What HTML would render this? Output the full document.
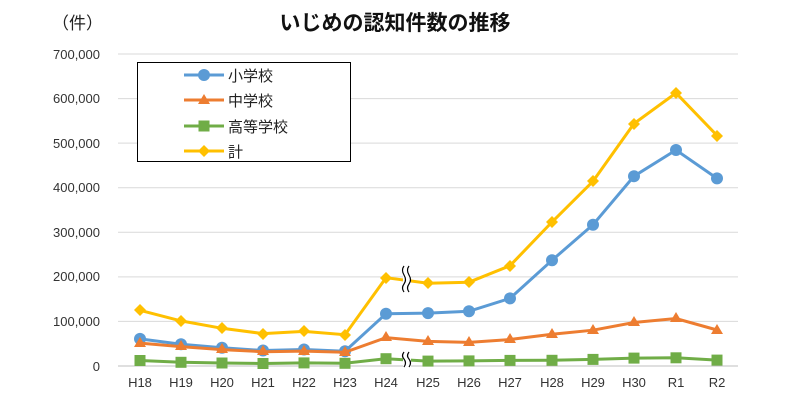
<!DOCTYPE html>
<html><head><meta charset="utf-8"><style>
body{margin:0;background:#fff;}
svg text{font-family:"Liberation Sans","Noto Sans CJK JP",sans-serif;}
</style></head><body>
<svg width="800" height="400" viewBox="0 0 800 400" xmlns="http://www.w3.org/2000/svg">
<rect width="800" height="400" fill="#fff"/>
<text x="52" y="29" font-size="17" fill="#222">（件）</text>
<text x="395" y="30" font-size="21" font-weight="bold" text-anchor="middle" fill="#111">いじめの認知件数の推移</text>
<g stroke="#d9d9d9" stroke-width="1">
<line x1="118" x2="738" y1="54" y2="54"/><line x1="118" x2="738" y1="98.6" y2="98.6"/>
<line x1="118" x2="738" y1="143.1" y2="143.1"/><line x1="118" x2="738" y1="187.7" y2="187.7"/>
<line x1="118" x2="738" y1="232.3" y2="232.3"/><line x1="118" x2="738" y1="276.9" y2="276.9"/>
<line x1="118" x2="738" y1="321.4" y2="321.4"/>
</g>
<line x1="118" x2="738" y1="366" y2="366" stroke="#bfbfbf"/>
<g font-size="13" fill="#333" text-anchor="end">
<text x="100" y="59">700,000</text><text x="100" y="103">600,000</text><text x="100" y="148">500,000</text>
<text x="100" y="192">400,000</text><text x="100" y="237">300,000</text><text x="100" y="281">200,000</text>
<text x="100" y="326">100,000</text><text x="100" y="371">0</text>
</g>
<g font-size="13" fill="#333" text-anchor="middle">
<text x="140" y="387">H18</text><text x="181" y="387">H19</text><text x="222" y="387">H20</text><text x="263" y="387">H21</text>
<text x="304" y="387">H22</text><text x="345" y="387">H23</text><text x="386" y="387">H24</text><text x="428" y="387">H25</text>
<text x="469" y="387">H26</text><text x="510" y="387">H27</text><text x="552" y="387">H28</text><text x="593" y="387">H29</text>
<text x="634" y="387">H30</text><text x="676" y="387">R1</text><text x="717" y="387">R2</text>
</g>
<!-- 計 -->
<g stroke="#FFC000" stroke-width="3" fill="none">
<polyline points="140,310.3 181,320.9 222,328.3 263,333.6 304,331.4 345,334.7 386,277.7 428,283.2 469,282.2 510,265.7 552,222 593,181.3 634,123.6 676,93 717,135.5"/>
</g>
<g fill="#FFC000">
<path d="M140,304 l6,6 l-6,6 l-6,-6z"/><path d="M181,315 l6,6 l-6,6 l-6,-6z"/><path d="M222,322 l6,6 l-6,6 l-6,-6z"/>
<path d="M263,328 l6,6 l-6,6 l-6,-6z"/><path d="M304,325 l6,6 l-6,6 l-6,-6z"/><path d="M345,329 l6,6 l-6,6 l-6,-6z"/>
<path d="M386,272 l6,6 l-6,6 l-6,-6z"/><path d="M428,277 l6,6 l-6,6 l-6,-6z"/><path d="M469,276 l6,6 l-6,6 l-6,-6z"/>
<path d="M510,260 l6,6 l-6,6 l-6,-6z"/><path d="M552,216 l6,6 l-6,6 l-6,-6z"/><path d="M593,175 l6,6 l-6,6 l-6,-6z"/>
<path d="M634,118 l6,6 l-6,6 l-6,-6z"/><path d="M676,87 l6,6 l-6,6 l-6,-6z"/><path d="M717,130 l6,6 l-6,6 l-6,-6z"/>
</g>
<!-- 小学校 -->
<g stroke="#5B9BD5" stroke-width="3" fill="none">
<polyline points="140,338.9 181,344.2 222,347.8 263,350.5 304,349.5 345,351.2 386,313.7 428,313.1 469,311.3 510,298.4 552,260.3 593,224.7 634,176.2 676,150 717,178.4"/>
</g>
<g fill="#5B9BD5">
<circle cx="140" cy="338.9" r="6"/><circle cx="181" cy="344.2" r="6"/><circle cx="222" cy="347.8" r="6"/><circle cx="263" cy="350.5" r="6"/>
<circle cx="304" cy="349.5" r="6"/><circle cx="345" cy="351.2" r="6"/><circle cx="386" cy="313.7" r="6"/><circle cx="428" cy="313.1" r="6"/>
<circle cx="469" cy="311.3" r="6"/><circle cx="510" cy="298.4" r="6"/><circle cx="552" cy="260.3" r="6"/><circle cx="593" cy="224.7" r="6"/>
<circle cx="634" cy="176.2" r="6"/><circle cx="676" cy="150" r="6"/><circle cx="717" cy="178.4" r="6"/>
</g>
<!-- 中学校 -->
<g stroke="#ED7D31" stroke-width="3" fill="none">
<polyline points="140,343.1 181,346.6 222,349.6 263,351.7 304,351.1 345,352.3 386,337.6 428,341.4 469,342.4 510,339.5 552,334.2 593,330.2 634,322.5 676,318.5 717,330"/>
</g>
<g fill="#ED7D31">
<path d="M140,337 l6,10 h-12z"/><path d="M181,340 l6,10 h-12z"/><path d="M222,343 l6,10 h-12z"/><path d="M263,345 l6,10 h-12z"/>
<path d="M304,345 l6,10 h-12z"/><path d="M345,346 l6,10 h-12z"/><path d="M386,331 l6,10 h-12z"/><path d="M428,335 l6,10 h-12z"/>
<path d="M469,336 l6,10 h-12z"/><path d="M510,333 l6,10 h-12z"/><path d="M552,328 l6,10 h-12z"/><path d="M593,324 l6,10 h-12z"/>
<path d="M634,316 l6,10 h-12z"/><path d="M676,312 l6,10 h-12z"/><path d="M717,324 l6,10 h-12z"/>
</g>
<!-- 高等学校 -->
<g stroke="#70AD47" stroke-width="3" fill="none">
<polyline points="140,360.5 181,362.3 222,363 263,363.5 304,362.9 345,363.3 386,358.7 428,361.1 469,360.9 510,360.4 552,360.3 593,359.4 634,358.1 676,357.8 717,360.1"/>
</g>
<g fill="#70AD47">
<rect x="134.5" y="355" width="11" height="11"/><rect x="175.5" y="356.8" width="11" height="11"/><rect x="216.5" y="357.5" width="11" height="11"/>
<rect x="257.5" y="358" width="11" height="11"/><rect x="298.5" y="357.4" width="11" height="11"/><rect x="339.5" y="357.8" width="11" height="11"/>
<rect x="380.5" y="353.2" width="11" height="11"/><rect x="422.5" y="355.6" width="11" height="11"/><rect x="463.5" y="355.4" width="11" height="11"/>
<rect x="504.5" y="354.9" width="11" height="11"/><rect x="546.5" y="354.8" width="11" height="11"/><rect x="587.5" y="353.9" width="11" height="11"/>
<rect x="628.5" y="352.6" width="11" height="11"/><rect x="670.5" y="352.3" width="11" height="11"/><rect x="711.5" y="354.6" width="11" height="11"/>
</g>
<!-- break marks -->
<g stroke="#000" stroke-width="1.2" fill="none">
<rect x="403" y="266" width="8" height="26" fill="#fff" stroke="none"/>
<path d="M404,266 q-3,4 0,9 q3,5 0,9 q-3,4 0,8"/><path d="M409,266 q-3,4 0,9 q3,5 0,9 q-3,4 0,8"/>
<rect x="403" y="352" width="8" height="16" fill="#fff" stroke="none"/>
<path d="M404,352 q-3,4 0,7 q3,4 0,8"/><path d="M409,352 q-3,4 0,7 q3,4 0,8"/>
</g>
<!-- legend -->
<rect x="137.5" y="62.5" width="213" height="99" fill="#fff" stroke="#000" stroke-width="1"/>
<g stroke-width="3">
<line x1="184" x2="224" y1="75" y2="75" stroke="#5B9BD5"/><circle cx="204" cy="75" r="6" fill="#5B9BD5"/>
<line x1="184" x2="224" y1="100" y2="100" stroke="#ED7D31"/><path d="M204,94 l6,10 h-12z" fill="#ED7D31"/>
<line x1="184" x2="224" y1="126" y2="126" stroke="#70AD47"/><rect x="198.5" y="120.5" width="11" height="11" fill="#70AD47"/>
<line x1="184" x2="224" y1="151" y2="151" stroke="#FFC000"/><path d="M204,145 l6,6 l-6,6 l-6,-6z" fill="#FFC000"/>
</g>
<g font-size="15" fill="#222">
<text x="228" y="81">小学校</text><text x="228" y="106">中学校</text><text x="228" y="132">高等学校</text><text x="228" y="157">計</text>
</g>
</svg>
</body></html>
